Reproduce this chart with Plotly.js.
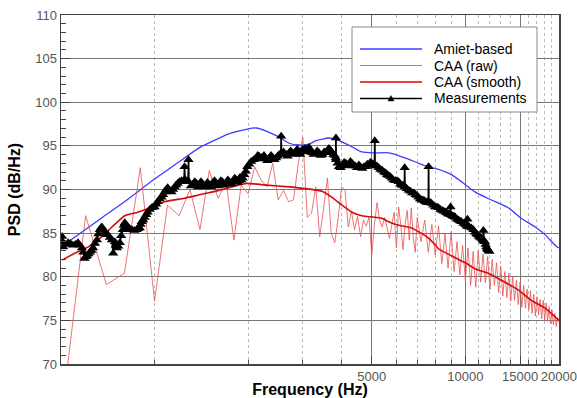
<!DOCTYPE html>
<html>
<head>
<meta charset="utf-8">
<script src="https://cdn.plot.ly/plotly-3.0.1.min.js"></script>
<style>html,body{margin:0;padding:0;background:#fff;}#chart{width:577px;height:398px;}</style>
</head>
<body>
<div id="chart"></div>
<script>
// ---------- DATA ----------
const amietF = [500,667,800,1000,1203,1395,1617,1740,1972,2124,2287,2518,2711,2918,3141,3308,3641,3920,4315,4645,5150,5665,6430,7075,7615,8200,9020,9710,10770,12130,13740,15130,16780,18070,19590,20000];
const amietPSD = [83.4,86.6,88.6,91.2,93.2,94.8,95.9,96.4,96.9,97.05,96.7,96.0,95.3,95.1,95.2,95.6,95.9,95.6,94.9,94.3,94.2,94.2,93.6,93.0,92.6,92.3,91.7,90.9,89.7,88.8,87.9,86.7,85.7,84.8,83.5,83.3];

const rawF = [500,600,700,800,900,1000,1100,1200,1300,1400,1500,1600,1700,1800,1900,2000,2100,2200,2300,2400,2500,2600,2700,2800,2900,3000,3100,3200,3300,3400,3500,3600,3700,3800,3900,4000,4100,4200,4300,4400,4500,4600,4700,4800,4900,5000,5100,5200,5300,5400,5500,5600,5700,5800,5900,6000,6100,6200,6300,6400,6500,6600,6700,6800,6900,7000,
7200,7400,7600,7800,8000,8200,8400,8600,8800,9000,9200,9400,9600,9800,10000,10200,10400,10600,10800,11000,11200,11400,11600,11800,12000,12200,12400,12600,12800,13000,13200,13400,13600,13800,14000,14200,14400,14600,14800,15000,15200,15400,15600,15800,16000,16200,16400,16600,16800,17000,17200,17400,17600,17800,18000,18200,18400,18600,18800,19000,19200,19400,19600,19800,20000];
const rawPSD = [63.5,87.0,79.1,80.4,92.5,77.2,88.2,87.0,90.0,85.4,92.2,89.0,90.8,84.2,90.5,89.5,92.6,91.1,90.3,93.0,88.8,89.9,88.6,88.8,93.0,96.0,86.8,87.3,90.3,84.6,87.9,91.3,85.0,83.9,86.8,90.3,89.9,85.7,87.5,85.4,86.9,84.6,86.5,85.8,86.8,82.5,86.0,88.5,86.5,85.7,86.8,85.4,84.4,86.0,87.4,83.3,88.0,85.9,83.1,86.0,87.6,84.2,87.9,84.5,82.8,86.8,
84.0,86.5,82.8,86.0,82.5,85.8,81.5,84.9,81.0,85.2,80.6,84.0,80.2,83.6,79.6,83.3,79.0,82.9,78.8,83.0,79.4,82.6,79.3,82.3,78.5,82.0,79.0,81.6,78.2,81.2,77.8,80.6,77.6,80.4,77.2,80.0,77.3,79.6,76.8,79.4,76.5,79.0,76.4,78.6,76.2,78.4,75.8,78.0,75.5,77.7,75.6,77.4,75.2,77.3,75.0,77.0,74.9,76.6,74.6,76.2,74.5,75.8,74.3,75.3,74.8];

const smoothF = [504,554,610,677,729,802,883,979,1077,1247,1395,1617,1972,2287,2711,3141,3459,3723,4009,4315,4645,5150,5383,5665,6103,6716,7505,7880,8200,9020,10000,10770,11850,13060,14790,16290,18070,19590,20000];
const smoothPSD = [81.9,82.7,83.4,84.6,85.7,87.0,87.4,88.0,88.6,89.0,89.4,89.9,90.7,90.5,90.3,90.05,89.8,89.1,88.2,87.4,87.0,86.8,86.7,86.3,85.9,85.6,84.6,83.9,83.2,82.4,81.6,80.9,80.4,79.6,78.5,77.3,76.4,75.3,75.0];

const measF = [504,506,508,517,527,536,546,556,567,575,584,590,595,600,606,613,620,627,634,643,652,660,667,672,677,685,692,700,707,718,729,736,745,750,756,764,773,781,790,796,802,811,820,832,845,860,876,886,896,902,909,919,929,940,950,965,979,990,1000,1012,1023,1038,1054,1065,1077,1090,1102,1118,1134,1147,1160,1173,1186,1203,1221,1245,1249,1253,1270,1283,1286,1289,1310,1330,1347,1364,1380,1395,1410,1426,1443,1460,1480,1502,1520,1540,1560,1581,1598,1615,1634,1653,1676,1700,1720,1741,1765,1790,1811,1833,1850,1870,1885,1902,1922,1944,1966,1988,2017,2047,2085,2124,2147,2170,2195,2220,2250,2280,2308,2338,2370,2400,2430,2462,2490,2518,2550,2555,2560,2600,2651,2680,2710,2740,2771,2805,2840,2878,2917,2943,2970,3000,3027,3050,3073,3107,3141,3176,3212,3250,3290,3335,3381,3425,3470,3515,3561,3600,3641,3680,3722,3760,3800,3828,3833,3838,3880,3920,3970,4020,4074,4128,4174,4220,4267,4314,4367,4420,4480,4543,4600,4660,4720,4785,4837,4890,4945,5000,5050,5105,5112,5119,5190,5265,5330,5400,5470,5545,5600,5660,5728,5796,5870,5950,6025,6103,6170,6241,6305,6370,6380,6390,6480,6571,6655,6740,6830,6918,6995,7070,7150,7233,7305,7380,7440,7505,7555,7606,7616,7626,7705,7787,7890,7990,8095,8200,8310,8420,8530,8636,8720,8800,8880,8950,8960,8970,9060,9150,9220,9294,9400,9500,9610,9716,9860,10007,10080,10145,10155,10165,10230,10300,10460,10615,10735,10852,10950,11050,11155,11262,11340,11420,11429,11438,11495,11550,11615,11684,11750,11820,11885,11946];
const measPSD = [84.6,84.0,83.4,83.7,83.9,83.8,83.6,83.7,83.9,83.6,83.3,82.8,82.1,82.3,82.4,82.6,82.8,83.0,83.3,83.8,84.2,84.9,85.4,85.6,85.7,85.4,85.1,84.9,84.8,84.5,84.2,82.7,84.0,83.6,83.3,83.5,83.9,84.7,85.4,85.9,86.2,85.9,85.7,85.5,85.4,85.3,85.4,85.5,85.6,86.0,86.3,86.5,86.8,87.1,87.4,87.7,87.9,88.0,88.0,88.3,88.6,88.9,89.1,89.4,89.7,90.0,90.2,89.9,89.7,90.0,90.3,90.5,90.7,90.9,91.0,91.1,92.6,91.1,91.0,90.9,93.4,90.9,90.4,90.6,90.9,90.7,90.3,90.6,90.9,90.7,90.3,90.4,90.8,90.5,90.3,90.8,91.0,90.7,90.4,90.6,91.0,90.9,90.5,90.8,91.1,90.9,90.6,91.0,91.3,91.1,90.8,91.0,91.4,91.1,91.3,91.7,92.1,92.6,92.9,93.2,93.4,93.6,93.9,93.8,93.5,93.7,93.9,93.5,93.3,93.6,93.9,93.7,93.4,93.6,93.8,94.0,94.1,96.1,94.1,94.3,94.0,93.8,94.2,94.4,94.2,94.0,94.3,94.6,94.2,94.0,94.4,94.6,94.5,94.7,94.3,94.6,94.8,94.5,94.2,94.0,94.1,94.4,94.2,93.9,94.0,94.3,94.2,94.5,94.7,94.5,94.2,94.0,93.9,93.6,95.9,93.4,93.0,92.6,92.5,92.8,93.1,93.0,92.7,92.9,93.2,93.0,92.8,92.7,92.5,92.8,92.6,92.4,92.6,92.6,92.9,92.8,93.1,93.0,92.9,92.8,95.6,92.7,92.7,92.5,92.3,92.2,92.0,91.9,91.7,91.6,91.5,91.3,91.1,91.0,91.0,90.9,90.6,90.5,90.5,90.4,92.5,90.3,90.1,89.9,89.8,89.6,89.6,89.4,89.3,89.1,88.9,88.8,88.8,88.7,88.6,88.5,88.6,88.5,92.6,88.5,88.5,88.4,88.2,88.0,88.0,87.9,87.7,87.6,87.5,87.4,87.3,87.2,87.2,87.1,88.0,87.1,87.0,86.9,86.9,86.8,86.6,86.5,86.4,86.3,86.1,86.0,85.9,85.8,86.6,85.8,85.8,85.7,85.6,85.4,85.1,84.9,84.8,84.6,84.5,84.4,84.3,84.2,85.3,84.1,84.1,84.0,83.7,83.4,83.2,83.1,83.0,82.9];

const xTickVals = [5000,10000,15000,20000];
const xTickText = ['5000','10000','15000','20000'];
const xMinorVals = [1000,2000,3000,4000,6000,7000,8000,9000,11000,12000,13000,14000,16000,17000,18000,19000];
const legendNames = ['Amiet-based','CAA (raw)','CAA (smooth)','Measurements'];

// ---------- STYLES ----------
const cBlue = 'rgb(60,60,255)';
const cRaw = 'rgb(232,80,80)';
const cSmooth = 'rgb(215,10,10)';
const cMeas = '#000';

const traces = [
  {x: amietF, y: amietPSD, type:'scatter', mode:'lines', name: legendNames[0], line:{color:cBlue, width:1.3, shape:'spline', smoothing:0.6}},
  {x: rawF, y: rawPSD, type:'scatter', mode:'lines', name: legendNames[1], line:{color:cRaw, width:0.8}},
  {x: smoothF, y: smoothPSD, type:'scatter', mode:'lines', name: legendNames[2], line:{color:cSmooth, width:1.6, shape:'spline', smoothing:0.5}},
  {x: measF, y: measPSD, type:'scatter', mode:'lines+markers', name: legendNames[3], line:{color:cMeas, width:1.8}, marker:{symbol:'triangle-up', size:9, color:cMeas}}
];

// plot area in pixels
const PL = 61, PR = 559, PT = 15, PB = 364;
const px = v => (v - PL) / (PR - PL);
const py = v => 1 - (v - PT) / (PB - PT);

const legRows = [49, 65.5, 82, 98.5];
const legColors = [cBlue, cRaw, cSmooth, cMeas];
const legWidths = [1.3, 0.9, 1.6, 1.3];
const shapes = [
  {type:'rect', xref:'paper', yref:'paper', x0:px(352), x1:px(537), y0:py(112), y1:py(27), line:{color:'#888', width:1}, fillcolor:'#fff', layer:'above'}
];
const annotations = [];
legRows.forEach((r, i) => {
  shapes.push({type:'line', xref:'paper', yref:'paper', x0:px(360), x1:px(422), y0:py(r), y1:py(r), line:{color:legColors[i], width:legWidths[i]}, layer:'above'});
  annotations.push({xref:'paper', yref:'paper', x:px(432), y:py(r), xanchor:'left', yanchor:'middle', text:legendNames[i], showarrow:false, font:{family:'Liberation Sans, Arial, sans-serif', size:14, color:'#000'}});
});
// triangle marker in legend
{
  const cx = 391, cy = legRows[3];
  shapes.push({type:'path', xref:'paper', yref:'paper', path:`M ${px(cx-3)} ${py(cy+2.5)} L ${px(cx+3)} ${py(cy+2.5)} L ${px(cx)} ${py(cy-3)} Z`, fillcolor:'#000', line:{color:'#000', width:0.5}, layer:'above'});
}

const tickFont = {family:'Liberation Sans, Arial, sans-serif', size:13, color:'#555'};
const titleFont = {family:'Liberation Sans, Arial, sans-serif', size:16, color:'#000'};

const layout = {
  width:577, height:398,
  margin:{l:PL, r:577-PR, t:PT, b:398-PB, pad:0},
  paper_bgcolor:'#fff', plot_bgcolor:'#fff',
  showlegend:false,
  xaxis:{
    type:'log', range:[Math.log10(500), Math.log10(20000) + 0.0003], autorange:false,
    tickmode:'array', tickvals:xTickVals, ticktext:xTickText, tickangle:0,
    ticks:'inside', ticklen:8, tickcolor:'#444', tickwidth:1,
    showline:true, mirror:true, linecolor:'#444', linewidth:1.5,
    showgrid:true, gridcolor:'#777', gridwidth:1, zeroline:false,
    tickfont:tickFont, automargin:false,
    minor:{tickmode:'array', tickvals:xMinorVals, ticks:'inside', ticklen:4, tickcolor:'#555', showgrid:true, gridcolor:'#bbb', griddash:'dot', gridwidth:1},
    title:{text:'<b>Frequency (Hz)</b>', font:titleFont, standoff:4}
  },
  yaxis:{
    range:[70,110], autorange:false, dtick:5, tick0:70,
    ticks:'inside', ticklen:9, tickcolor:'#444', tickwidth:1,
    showline:true, mirror:true, linecolor:'#444', linewidth:1.5,
    showgrid:true, gridcolor:'#777', gridwidth:1, zeroline:false,
    tickfont:tickFont, automargin:false,
    minor:{dtick:1, ticks:'inside', ticklen:5, tickcolor:'#444', showgrid:false},
    title:{text:'<b>PSD (dB/Hz)</b>', font:titleFont, standoff:10}
  },
  shapes:shapes,
  annotations:annotations
};

Plotly.newPlot('chart', traces, layout, {staticPlot:true, displayModeBar:false});
</script>
</body>
</html>
